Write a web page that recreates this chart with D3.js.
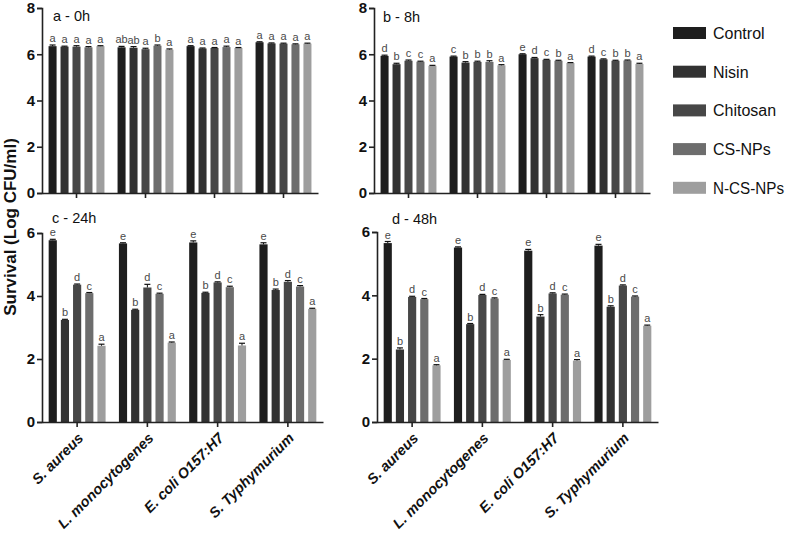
<!DOCTYPE html>
<html><head><meta charset="utf-8">
<script src="https://cdn.jsdelivr.net/npm/d3@7"></script>
<style>body{margin:0;background:#fff}svg{display:block;font-family:"Liberation Sans",Arial,sans-serif}</style>
</head><body>
<svg id="c" width="787" height="543"></svg>
<script>
const categories = ["S. aureus", "L. monocytogenes", "E. coli O157:H7", "S. Typhymurium"];
const treatments = ["Control", "Nisin", "Chitosan", "CS-NPs", "N-CS-NPs"];
const colors = ["#1e1e1e", "#323232", "#474747", "#6d6d6d", "#9e9e9e"];

// values[category][treatment]
const values0h  = [[6.35,6.33,6.33,6.30,6.35],[6.30,6.28,6.22,6.37,6.20],[6.35,6.25,6.27,6.31,6.27],[6.52,6.47,6.46,6.43,6.46]];
const errors0h  = [[0.05,0.02,0.04,0.03,0.02],[0.04,0.05,0.04,0.03,0.03],[0.02,0.02,0.02,0.04,0.02],[0.02,0.02,0.02,0.02,0.02]];
const letters0h = [["a","a","a","a","a"],["ab","ab","a","b","a"],["a","a","a","a","a"],["a","a","a","a","a"]];

const values8h  = [[5.93,5.57,5.72,5.68,5.50],[5.90,5.64,5.67,5.67,5.52],[6.00,5.83,5.76,5.72,5.62],[5.90,5.78,5.72,5.73,5.58]];
const errors8h  = [[0.03,0.04,0.03,0.02,0.02],[0.02,0.04,0.03,0.05,0.03],[0.02,0.03,0.02,0.02,0.02],[0.02,0.02,0.02,0.02,0.03]];
const letters8h = [["d","b","c","c","a"],["c","b","b","b","a"],["e","d","c","b","a"],["d","c","b","b","a"]];

const values24h  = [[5.77,3.24,4.36,4.09,2.42],[5.67,3.56,4.27,4.07,2.52],[5.70,4.10,4.43,4.28,2.43],[5.64,4.19,4.45,4.30,3.59]];
const errors24h  = [[0.03,0.02,0.02,0.02,0.05],[0.02,0.02,0.10,0.02,0.02],[0.05,0.02,0.02,0.03,0.07],[0.05,0.03,0.04,0.03,0.02]];
const letters24h = [["e","b","d","c","a"],["e","b","d","c","a"],["e","b","d","c","a"],["e","b","d","c","a"]];

const values48h  = [[5.65,2.29,3.95,3.88,1.79],[5.51,3.09,4.01,3.90,1.96],[5.41,3.33,4.06,4.02,1.94],[5.57,3.64,4.31,3.96,3.04]];
const errors48h  = [[0.05,0.05,0.02,0.02,0.02],[0.02,0.02,0.02,0.02,0.02],[0.04,0.06,0.02,0.02,0.03],[0.04,0.03,0.02,0.02,0.02]];
const letters48h = [["e","b","d","c","a"],["e","b","d","c","a"],["e","b","d","c","a"],["e","b","d","c","a"]];

const yTicksTop = [0,2,4,6,8];
const yTicksBottom = [0,2,4,6];

const svg = d3.select("#c");

const panels = [
  {title:"a - 0h", vals:values0h, errs:errors0h, lets:letters0h, x0:42, x1:318, yTop:8, yBot:193, max:8, ticks:yTicksTop, tx:53, ty:21, showX:false},
  {title:"b - 8h", vals:values8h, errs:errors8h, lets:letters8h, x0:374, x1:650, yTop:8, yBot:193, max:8, ticks:yTicksTop, tx:383, ty:22, showX:false},
  {title:"c - 24h", vals:values24h, errs:errors24h, lets:letters24h, x0:42, x1:323, yTop:233, yBot:422, max:6, ticks:yTicksBottom, tx:52, ty:223, showX:true},
  {title:"d - 48h", vals:values48h, errs:errors48h, lets:letters48h, x0:377, x1:658, yTop:232, yBot:422, max:6, ticks:yTicksBottom, tx:392, ty:224, showX:true}
];

panels.forEach(p => {
  const g = svg.append("g");
  const x = d3.scaleBand().domain(categories).range([p.x0, p.x1]).paddingInner(0.19).paddingOuter(0.095);
  const xi = d3.scaleBand().domain(treatments).range([0, x.bandwidth()]).paddingInner(0.33);
  const y = d3.scaleLinear().domain([0, p.max]).range([p.yBot, p.yTop]);

  categories.forEach((cat, ci) => {
    const cg = g.append("g").attr("transform", `translate(${x(cat)},0)`);
    treatments.forEach((t, ti) => {
      const v = p.vals[ci][ti], e = p.errs[ci][ti];
      const bx = xi(t), bw = xi.bandwidth();
      cg.append("rect").attr("x", bx).attr("y", y(v)).attr("width", bw).attr("height", y(0) - y(v)).attr("fill", colors[ti]);
      const cx = bx + bw / 2;
      cg.append("line").attr("x1", cx).attr("x2", cx).attr("y1", y(v + e)).attr("y2", y(v)).attr("stroke", "#111").attr("stroke-width", 1);
      cg.append("line").attr("x1", cx - 3).attr("x2", cx + 3).attr("y1", y(v + e)).attr("y2", y(v + e)).attr("stroke", "#111").attr("stroke-width", 1.2);
      cg.append("text").attr("x", cx).attr("y", y(v + e) - 3).attr("text-anchor", "middle")
        .attr("font-size", 11).attr("fill", "#4a4a4a").text(p.lets[ci][ti]);
    });
  });

  const yAxis = d3.axisLeft(y).tickValues(p.ticks).tickSize(5).tickPadding(2).tickFormat(d3.format("d"));
  const ya = g.append("g").attr("transform", `translate(${p.x0},0)`).call(yAxis);
  ya.select(".domain").attr("stroke", "#222").attr("stroke-width", 1.6);
  ya.selectAll(".tick line").attr("stroke", "#222").attr("stroke-width", 1.6);
  ya.selectAll(".tick text").attr("font-size", 15).attr("font-weight", "bold").attr("fill", "#111").attr("font-family", "Liberation Sans, Arial, sans-serif");

  const xAxis = d3.axisBottom(x).tickSize(5).tickSizeOuter(0).tickFormat(p.showX ? (d => d) : () => "");
  const xa = g.append("g").attr("transform", `translate(0,${p.yBot})`).call(xAxis);
  xa.select(".domain").attr("stroke", "#222").attr("stroke-width", 1.6);
  xa.selectAll(".tick line").attr("stroke", "#222").attr("stroke-width", 1.6);
  xa.selectAll(".tick text").attr("font-size", 14.5).attr("font-weight", "bold").attr("font-style", "italic").attr("fill", "#111")
    .attr("font-family", "Liberation Sans, Arial, sans-serif")
    .attr("text-anchor", "end").attr("dy", 0).attr("y", 0)
    .attr("transform", "translate(7,17) rotate(-45)");

  g.append("text").attr("x", p.tx).attr("y", p.ty).attr("font-size", 14.5).attr("fill", "#111").text(p.title);
});

// y-axis title
svg.append("text").attr("transform", "translate(16,227) rotate(-90)").attr("text-anchor", "middle")
  .attr("font-size", 17).attr("font-weight", "bold").attr("fill", "#111").text("Survival (Log CFU/ml)");

// legend
const lg = svg.append("g");
treatments.forEach((t, i) => {
  const cy = 33 + i * 38.7;
  lg.append("rect").attr("x", 673).attr("y", cy - 6).attr("width", 33).attr("height", 12).attr("fill", colors[i]);
  const tx = lg.append("text").attr("x", 713).attr("y", cy + 6).attr("font-size", 16).attr("fill", "#111").text(t);
  if (tx.node().getComputedTextLength() > 71) tx.attr("textLength", 71).attr("lengthAdjust", "spacingAndGlyphs");
});
</script>
</body></html>
